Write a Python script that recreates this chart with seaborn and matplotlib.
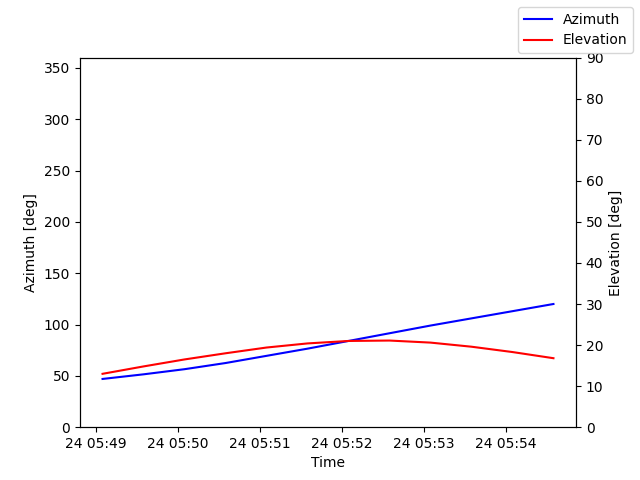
import pandas as pd
import matplotlib
matplotlib.use("Agg")
import matplotlib.pyplot as plt
import seaborn as sns

# Pasada del satélite, muestras cada 30 s
times = pd.date_range("2024-01-24 05:49:05", periods=12, freq="30s")
azimuth = [47, 51.5, 56.5, 62.5, 69.5, 76.5, 84, 91.5, 99, 106, 113, 120]
elevation = [13, 14.8, 16.5, 18, 19.4, 20.4, 21, 21.1, 20.6, 19.6, 18.3, 16.8]

df = pd.DataFrame({"Time": times, "Azimuth": azimuth, "Elevation": elevation})

fig, ax = plt.subplots(figsize=(6.4, 4.8), dpi=100)
ax2 = ax.twinx()

sns.lineplot(data=df, x="Time", y="Azimuth", ax=ax, color="blue", label="Azimuth")
sns.lineplot(data=df, x="Time", y="Elevation", ax=ax2, color="red", label="Elevation")

ax.get_legend().remove()
ax2.get_legend().remove()

ax.set_ylim(0, 360)
ax2.set_ylim(0, 90)
ax.set_xlabel("Time")
ax.set_ylabel("Azimuth [deg]")
ax2.set_ylabel("Elevation [deg]")

fig.legend()
plt.savefig("out.png")
